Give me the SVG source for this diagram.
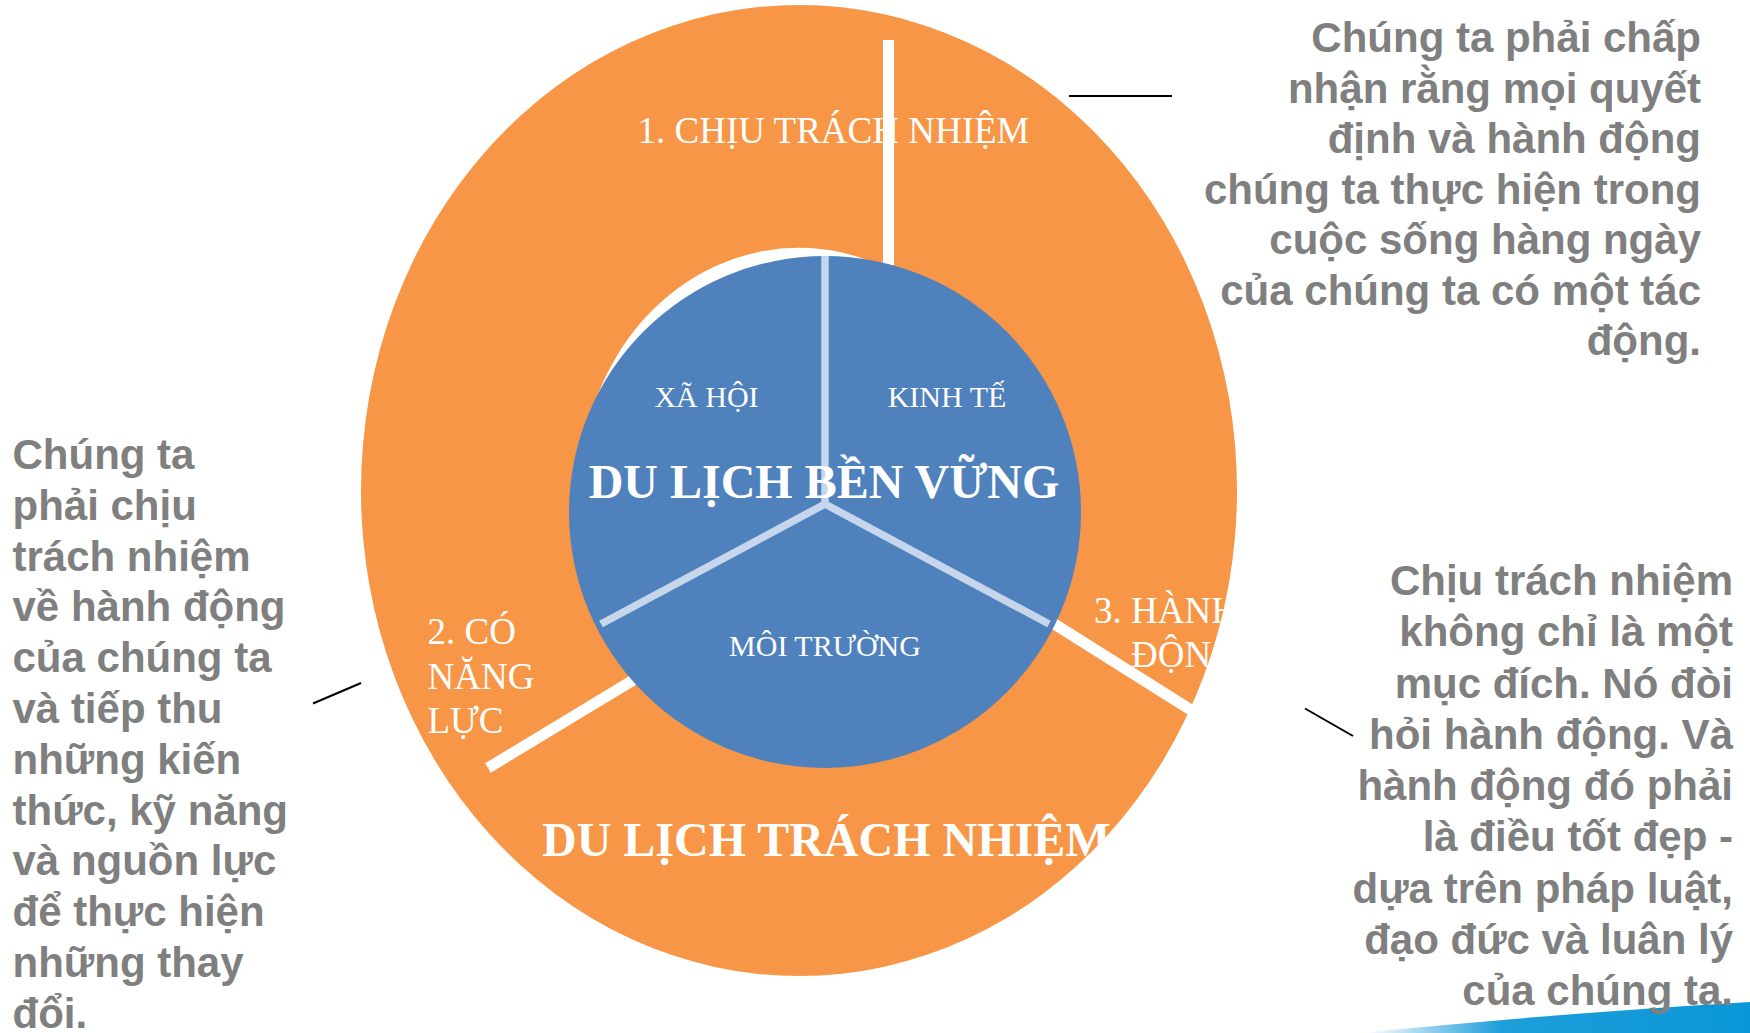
<svg xmlns="http://www.w3.org/2000/svg" width="1750" height="1033" viewBox="0 0 1750 1033">
<style>
.serif{font-family:"Liberation Serif","Times New Roman",serif;fill:#ffffff}
.lbl{font-size:37px}
.sm{font-size:30px}
.big{font-size:48px;font-weight:bold}
.note{font-family:"Liberation Sans",Arial,sans-serif;font-weight:bold;font-size:42px;fill:#7f7f7f}
.bar{stroke:#ffffff;stroke-width:11;fill:none}
.sep{stroke:#c6d6ec;stroke-width:7.5;fill:none}
.call{stroke:#000000;stroke-width:2;fill:none}
</style>
<defs>
<clipPath id="outerClip"><ellipse cx="799" cy="490.5" rx="438" ry="485.5"/></clipPath>
<linearGradient id="swoosh" x1="1365" y1="0" x2="1750" y2="0" gradientUnits="userSpaceOnUse">
<stop offset="0" stop-color="#ffffff"/>
<stop offset="0.35" stop-color="#1e9edb"/>
<stop offset="1" stop-color="#0a96d6"/>
</linearGradient>
</defs>
<rect width="1750" height="1033" fill="#ffffff"/>
<path d="M1360,1033 Q1550,1014 1750,1002 L1750,1033 Z" fill="url(#swoosh)"/>

<g id="outer-ring">
<ellipse cx="799" cy="490.5" rx="438" ry="485.5" fill="#f79646"/>
<ellipse cx="799" cy="490.5" rx="219" ry="242.75" fill="#ffffff"/>
<g clip-path="url(#outerClip)">
<text class="serif lbl" x="833.5" y="143" text-anchor="middle">1. CHỊU TRÁCH NHIỆM</text>
<text class="serif lbl" x="427.5" y="644">2. CÓ</text>
<text class="serif lbl" x="427.5" y="689">NĂNG</text>
<text class="serif lbl" x="427.5" y="733">LỰC</text>
<text class="serif lbl" x="1238" y="623" text-anchor="end">3. HÀNH</text>
<text class="serif lbl" x="1238" y="667" text-anchor="end">ĐỘNG</text>
<text class="serif big" x="542" y="856">DU LỊCH TRÁCH NHIỆM</text>
</g>
<rect x="883" y="40" width="11" height="225" fill="#ffffff"/>
<line class="bar" x1="488" y1="768" x2="640" y2="676"/>
<line class="bar" x1="1040" y1="615" x2="1191" y2="710"/>
</g>

<g id="inner-circle">
<circle cx="825" cy="512" r="256" fill="#4f81bd"/>
<line class="sep" x1="825" y1="504" x2="825" y2="256"/>
<line class="sep" x1="825" y1="504" x2="601" y2="624"/>
<line class="sep" x1="825" y1="504" x2="1049" y2="624"/>
<text class="serif sm" x="706.5" y="407" text-anchor="middle">XÃ HỘI</text>
<text class="serif sm" x="947" y="407" text-anchor="middle">KINH TẾ</text>
<text class="serif sm" x="825" y="656" text-anchor="middle">MÔI TRƯỜNG</text>
<text class="serif big" x="824" y="498" text-anchor="middle">DU LỊCH BỀN VỮNG</text>
</g>

<g id="connectors">
<line class="call" x1="1069" y1="96" x2="1172" y2="96"/>
<line class="call" x1="313" y1="703.5" x2="361" y2="683"/>
<line class="call" x1="1305" y1="708.5" x2="1353" y2="736"/>
</g>

<g id="note-top-right">
<text class="note" text-anchor="end"><tspan x="1701" y="52">Chúng ta phải chấp</tspan><tspan x="1701" y="102.5">nhận rằng mọi quyết</tspan><tspan x="1701" y="153">định và hành động</tspan><tspan x="1701" y="203.5">chúng ta thực hiện trong</tspan><tspan x="1701" y="254">cuộc sống hàng ngày</tspan><tspan x="1701" y="304.5">của chúng ta có một tác</tspan><tspan x="1701" y="355">động.</tspan></text>
</g>

<g id="note-left">
<text class="note"><tspan x="12.5" y="469">Chúng ta</tspan><tspan x="12.5" y="519.8">phải chịu</tspan><tspan x="12.5" y="570.6">trách nhiệm</tspan><tspan x="12.5" y="621.4">về hành động</tspan><tspan x="12.5" y="672.2">của chúng ta</tspan><tspan x="12.5" y="723">và tiếp thu</tspan><tspan x="12.5" y="773.8">những kiến</tspan><tspan x="12.5" y="824.6">thức, kỹ năng</tspan><tspan x="12.5" y="875.4">và nguồn lực</tspan><tspan x="12.5" y="926.2">để thực hiện</tspan><tspan x="12.5" y="977">những thay</tspan><tspan x="12.5" y="1027.5">đổi.</tspan></text>
</g>

<g id="note-bottom-right">
<text class="note" text-anchor="end"><tspan x="1733" y="595">Chịu trách nhiệm</tspan><tspan x="1733" y="646.3">không chỉ là một</tspan><tspan x="1733" y="697.5">mục đích. Nó đòi</tspan><tspan x="1733" y="748.8">hỏi hành động. Và</tspan><tspan x="1733" y="800">hành động đó phải</tspan><tspan x="1733" y="851.3">là điều tốt đẹp -</tspan><tspan x="1733" y="902.5">dựa trên pháp luật,</tspan><tspan x="1733" y="953.8">đạo đức và luân lý</tspan><tspan x="1733" y="1005">của chúng ta.</tspan></text>
</g>
</svg>
